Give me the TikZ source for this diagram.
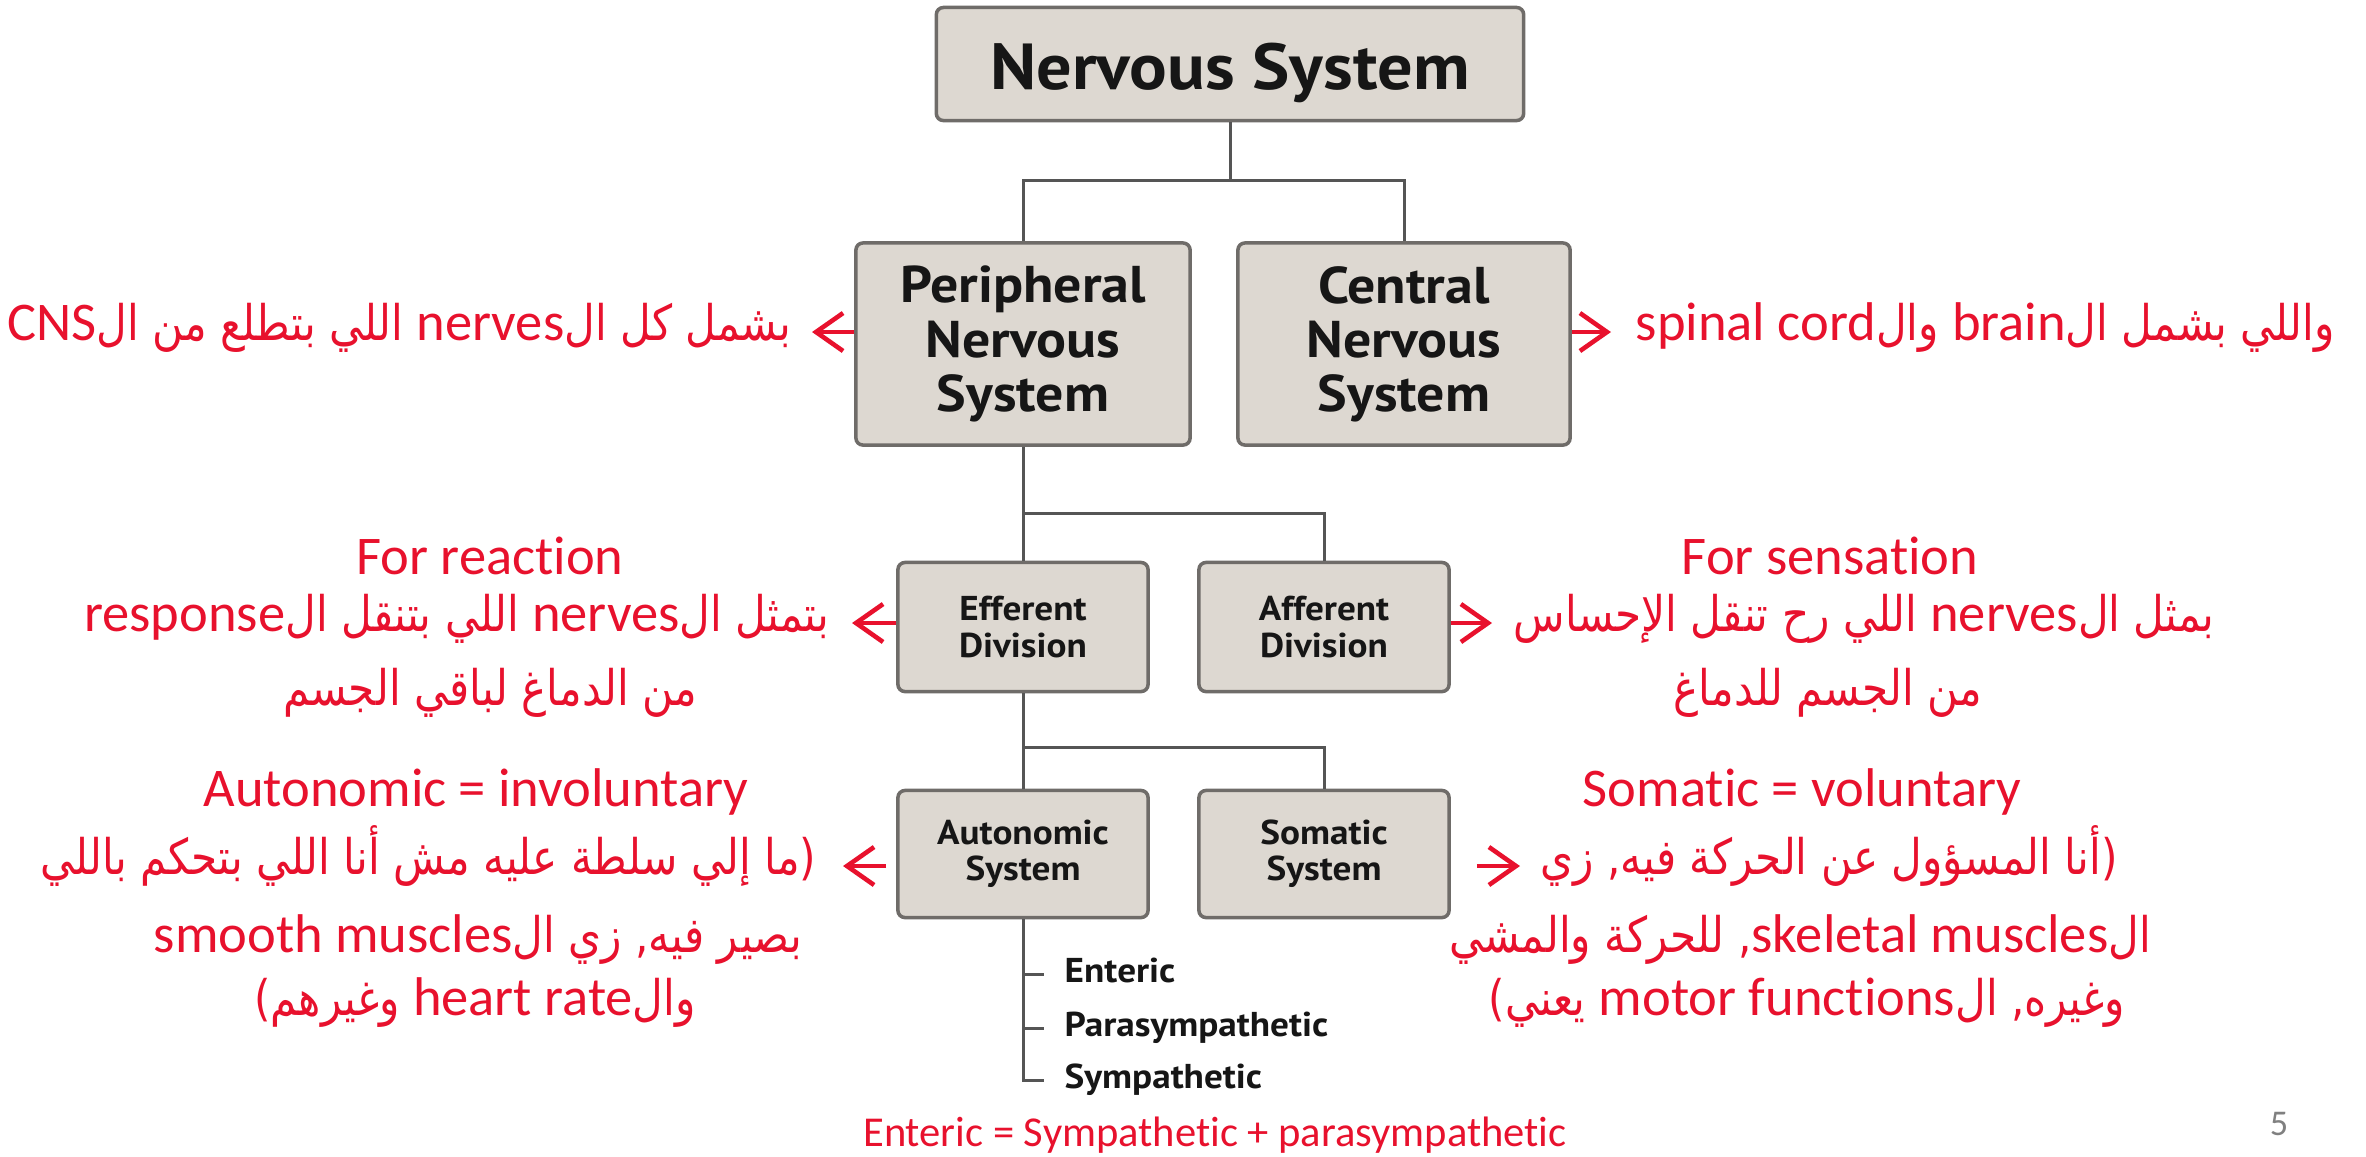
\documentclass[tikz,border=0pt]{standalone}
\usepackage{fontspec}
\usetikzlibrary{arrows.meta,calc}
\setmainfont{Carlito}[Ligatures=NoCommon]
\newfontfamily\arabicfont[Script=Arabic,Scale=0.9,FakeStretch=0.86]{DejaVu Sans}
\newfontfamily\boxfont{PT Sans}[FakeStretch=1.08]
\TeXXeTstate=1
\newcommand\AR[1]{{\arabicfont #1}}
\definecolor{notered}{HTML}{E8112D}
\definecolor{boxfill}{HTML}{DDD8D1}
\definecolor{boxline}{HTML}{6F6C69}
\definecolor{linkgray}{HTML}{555555}
\definecolor{boxtext}{HTML}{161616}
\definecolor{pagegray}{HTML}{808080}
\begin{document}
\begin{tikzpicture}[x=0.01cm,y=-0.01cm,
  sysbox/.style={draw=boxline, line width=1pt, fill=boxfill, rounded corners=2pt,
    inner sep=0pt, align=center, text=boxtext},
  bigfont/.style={font={\boxfont\bfseries\fontsize{14.7pt}{15.4pt}\selectfont}},
  smallfont/.style={font={\boxfont\bfseries\fontsize{9.8pt}{10.3pt}\selectfont}},
  subtext/.style={smallfont, text=boxtext, inner sep=0pt},
  link/.style={draw=linkgray, line width=0.85pt},
  note/.style={text=notered, inner sep=0pt, font={\fontsize{15.5pt}{19pt}\selectfont}},
  notearrow/.style={draw=notered, line width=1.3pt,
    -{Straight Barb[length=7.7pt,width=10.8pt]}}]
\useasboundingbox (0,0) rectangle (2366,1156);
\fill[white] (0,0) rectangle (2366,1156);

% hierarchy boxes
\node[sysbox, minimum width=5.87cm, minimum height=1.13cm, text height=14.3pt, text depth=0pt,
  font={\boxfont\bfseries\fontsize{18.5pt}{20pt}\selectfont}] (ns) at (1230,64) {Nervous System};
\node[sysbox, bigfont, minimum width=3.34cm, minimum height=2.02cm] (pns) at (1023,344) {Peripheral\\Nervous\\System};
\node[sysbox, bigfont, minimum width=3.32cm, minimum height=2.02cm] (cns) at (1404,344) {Central\\Nervous\\System};
\node[sysbox, smallfont, minimum width=2.50cm, minimum height=1.29cm] (eff) at (1023,627) {Efferent\\Division};
\node[sysbox, smallfont, minimum width=2.50cm, minimum height=1.29cm] (aff) at (1324,627) {Afferent\\Division};
\node[sysbox, smallfont, minimum width=2.50cm, minimum height=1.27cm] (aut) at (1023,854) {Autonomic\\System};
\node[sysbox, smallfont, minimum width=2.50cm, minimum height=1.27cm] (som) at (1324,854) {Somatic\\System};

% tree connectors
\coordinate (j1) at (1230,180);
\coordinate (j2) at (1023,513);
\coordinate (j3) at (1023,747);
\draw[link] (ns.south) -- (j1);
\draw[link] (pns.north) |- (j1) -| (cns.north);
\draw[link] (pns.south) -- (eff.north);
\draw[link] (j2) -| (aff.north);
\draw[link] (eff.south) -- (aut.north);
\draw[link] (j3) -| (som.north);

% autonomic subdivisions
\node[subtext, anchor=mid west] (ent) at (1064,974) {Enteric};
\node[subtext, anchor=mid west] (para) at (1064,1028) {Parasympathetic};
\node[subtext, anchor=mid west] (symp) at (1064,1080) {Sympathetic};
\draw[link] (aut.south) |- ($(symp.mid west)+(-20,0)$);
\draw[link] (aut.south |- ent.mid west) -- ($(ent.mid west)+(-20,0)$);
\draw[link] (aut.south |- para.mid west) -- ($(para.mid west)+(-20,0)$);

% notes on PNS and CNS
\node[note, anchor=mid east] (pnsn) at (792,332)
  {\beginR\AR{بشمل كل ال}nerves\AR{ اللي بتطلع من ال}CNS\endR};
\draw[notearrow, shorten >=0.2cm] (pns.west |- pnsn.mid east) -- (pnsn.mid east);
\node[note, anchor=mid west] (cnsn) at (1635,332)
  {\beginR\AR{واللي بشمل ال}brain\AR{ وال}\beginL spinal cord\endL\endR};
\draw[notearrow, shorten >=0.24cm] (cns.east |- cnsn.mid west) -- (cnsn.mid west);

% efferent division
\node[note] (effn1) at (490,556) {For reaction};
\node[note, anchor=mid east] (effn2) at (830,623)
  {\beginR\AR{بتمثل ال}nerves\AR{ اللي بتنقل ال}response\endR};
\draw[notearrow, shorten >=0.22cm] (eff.west |- effn2.mid east) -- (effn2.mid east);
\node[note] (effn3) at (490,693) {\beginR\AR{من الدماغ لباقي الجسم}\endR};

% afferent division
\node[note] (affn1) at (1830,556) {For sensation};
\node[note, anchor=mid west] (affn2) at (1513,623)
  {\beginR\AR{بمثل ال}nerves\AR{ اللي رح تنقل الإحساس}\endR};
\draw[notearrow, shorten >=0.21cm] (aff.east |- affn2.mid west) -- (affn2.mid west);
\node[note] (affn3) at (1828,693) {\beginR\AR{من الجسم للدماغ}\endR};

% autonomic system
\node[note] (autn1) at (476,792) {Autonomic = involuntary};
\node[note, anchor=mid east] (autn2) at (817,866)
  {\beginR\AR{(ما إلي سلطة عليه مش أنا اللي بتحكم باللي}\endR};
\draw[notearrow, shorten <=0.1cm, shorten >=0.26cm] (aut.west |- autn2.mid east) -- (autn2.mid east);
\node[note] (autn3) at (478,940)
  {\beginR\AR{بصير فيه, زي ال}\beginL smooth muscles\endL\endR};
\node[note] (autn4) at (475,1003)
  {\beginR\AR{وال}\beginL heart rate\endL\AR{ وغيرهم)}\endR};

% somatic system
\node[note] (somn1) at (1802,792) {Somatic = voluntary};
\node[note, anchor=mid west] (somn2) at (1540,866)
  {\beginR\AR{(أنا المسؤول عن الحركة فيه, زي}\endR};
\draw[notearrow, shorten <=0.26cm, shorten >=0.2cm] (som.east |- somn2.mid west) -- (somn2.mid west);
\node[note] (somn3) at (1800,940)
  {\beginR\AR{ال}\beginL skeletal muscles\endL\AR{, للحركة والمشي}\endR};
\node[note] (somn4) at (1807,1003)
  {\beginR\AR{وغيره, ال}\beginL motor functions\endL\AR{ يعني)}\endR};

% footer
\node[note, font={\fontsize{12.1pt}{14pt}\selectfont}] (eq) at (1215,1135)
  {Enteric = Sympathetic + parasympathetic};
\node[text=pagegray, inner sep=0pt, font={\fontsize{10.3pt}{12pt}\selectfont}] (pg) at (2279,1124) {5};
\end{tikzpicture}
\end{document}
